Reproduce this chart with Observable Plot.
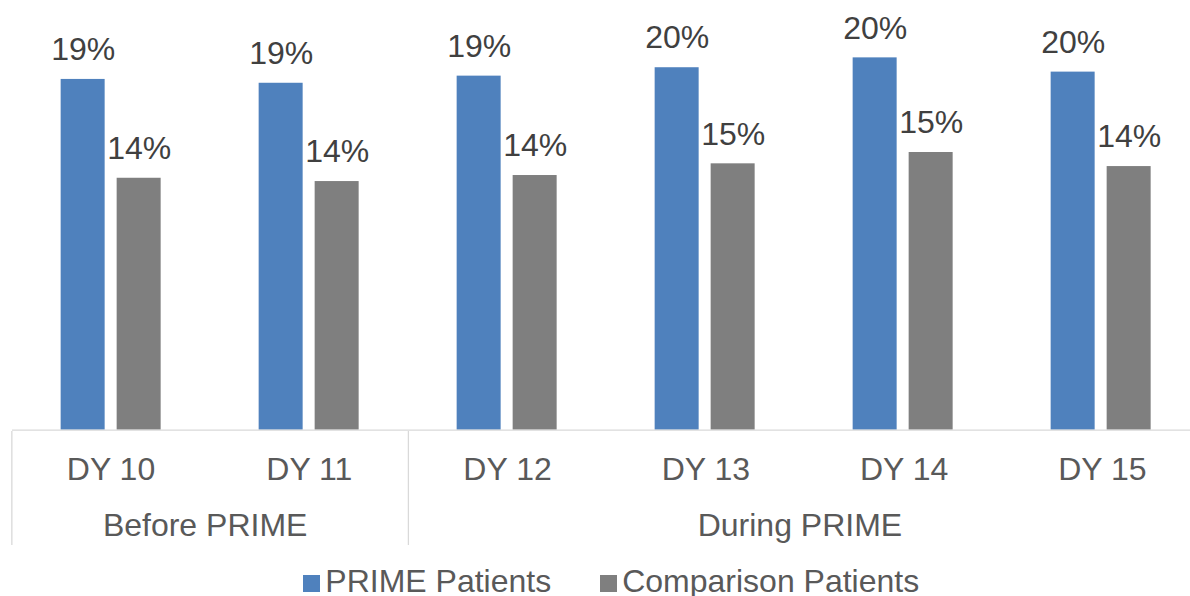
<!DOCTYPE html>
<html>
<head>
<meta charset="utf-8">
<script src="https://cdn.jsdelivr.net/npm/d3@7"></script>
<script src="https://cdn.jsdelivr.net/npm/@observablehq/plot@0.6"></script>
<style>
  html, body { margin: 0; padding: 0; background: #ffffff; overflow: hidden; }
  body { width: 1190px; height: 596px; position: relative; font-family: "Liberation Sans", Arial, sans-serif; }
  #chart { width: 1201px; }
  #chart svg { display: block; max-width: none !important; height: auto; }
  #legend { position: absolute; left: 303.3px; top: 565.2px; display: flex; align-items: flex-start;
            font-size: 32px; line-height: 32px; color: #595959; white-space: nowrap; }
  #legend .item { display: flex; align-items: flex-start; margin-right: 49px; }
  #legend .sw { width: 17px; height: 17px; margin-top: 9.8px; margin-right: 5px; }
</style>
</head>
<body>
<div id="chart"></div>
<div id="legend"></div>
<script>
// ---- data ----
const categories = ["DY 10", "DY 11", "DY 12", "DY 13", "DY 14", "DY 15"];
const groupNames = ["Before PRIME", "During PRIME"];
const groupSizes = [2, 4];
const seriesNames = ["PRIME Patients", "Comparison Patients"];
const primeValues = [0.1920, 0.1899, 0.1938, 0.1984, 0.2038, 0.1960];
const comparisonValues = [0.1379, 0.1361, 0.1394, 0.1458, 0.1520, 0.1443];

// ---- styles ----
const seriesColors = ["#4F81BD", "#7F7F7F"];
const font = "'Liberation Sans', Arial, sans-serif";
const fmt = d3.format(".0%");

const rows = categories.flatMap((c, i) => [
  {cat: c, series: seriesNames[0], value: primeValues[i]},
  {cat: c, series: seriesNames[1], value: comparisonValues[i]}
]);

let start = 0;
const groups = groupNames.map((name, i) => {
  const g = {name, start, end: start + groupSizes[i]};
  start += groupSizes[i];
  return g;
});
const boundaries = [0, ...groups.map(g => g.end)];

const bars = Plot.plot({
  width: 1201, height: 431,
  marginTop: 0, marginBottom: 1.3, marginLeft: 11.35, marginRight: 0,
  style: {fontFamily: font, background: "transparent", overflow: "visible"},
  fx: {domain: categories, padding: 0, axis: null},
  x: {domain: seriesNames, paddingInner: 0.2124, paddingOuter: 0.861, axis: null},
  y: {domain: [0, 0.2352], axis: null},
  color: {domain: seriesNames, range: seriesColors},
  marks: [
    Plot.barY(rows, {fx: "cat", x: "series", y: "value", fill: "series"}),
    Plot.text(rows, {fx: "cat", x: "series", y: "value", text: d => fmt(d.value),
      lineAnchor: "bottom", dy: -19.3, fontSize: 32, fill: "#404040"}),
    Plot.ruleY([0], {stroke: "#D9D9D9", strokeWidth: 1.3})
  ]
});

const table = Plot.plot({
  width: 1201, height: 114,
  marginTop: 0, marginBottom: 0, marginLeft: 11.35, marginRight: 0,
  style: {fontFamily: font, background: "transparent", overflow: "visible"},
  x: {domain: [0, categories.length], axis: null},
  marks: [
    Plot.ruleX(boundaries, {stroke: "#D9D9D9", strokeWidth: 1.3}),
    Plot.text(categories, {x: (d, i) => i + 0.5, text: d => d, frameAnchor: "top",
      lineAnchor: "bottom", dy: 48.3, fontSize: 32, fill: "#595959"}),
    Plot.text(groups, {x: g => (g.start + g.end) / 2, text: "name", frameAnchor: "top",
      lineAnchor: "bottom", dy: 104, dx: -5, fontSize: 32, fill: "#595959"})
  ]
});

const chart = document.getElementById("chart");
chart.appendChild(bars);
chart.appendChild(table);

const legend = document.getElementById("legend");
seriesNames.forEach((name, i) => {
  const item = document.createElement("div");
  item.className = "item";
  const sw = document.createElement("span");
  sw.className = "sw";
  sw.style.background = seriesColors[i];
  const label = document.createElement("span");
  label.textContent = name;
  item.appendChild(sw);
  item.appendChild(label);
  legend.appendChild(item);
});
</script>
</body>
</html>
